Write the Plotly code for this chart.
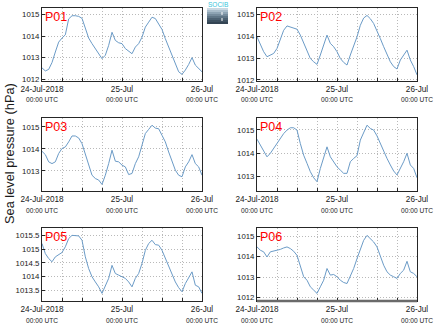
import plotly.graph_objects as go
import pandas as pd

# Hourly sea level pressure (hPa), 24-Jul-2018 00:00 UTC to 26-Jul-2018 00:00 UTC
times = pd.date_range("2018-07-24 00:00", periods=49, freq="h")

stations = ["P01", "P02", "P03", "P04", "P05", "P06"]

p01 = [1012.52, 1012.38, 1012.45, 1012.77, 1013.26, 1013.72, 1013.91, 1014.06, 1014.80,
       1014.95, 1014.95, 1014.92, 1014.83, 1014.34, 1013.91, 1013.65, 1013.42, 1013.14,
       1012.95, 1013.11, 1013.57, 1014.18, 1013.80, 1013.69, 1013.65, 1013.42, 1013.29,
       1013.18, 1013.49, 1013.65, 1013.95, 1014.42, 1014.65, 1014.88, 1014.82, 1014.57,
       1014.31, 1013.88, 1013.49, 1013.03, 1012.65, 1012.34, 1012.22, 1012.42, 1012.68,
       1013.00, 1012.65, 1012.49, 1012.34]

p02 = [1013.97, 1013.59, 1013.29, 1013.06, 1013.14, 1013.21, 1013.44, 1013.89, 1014.27,
       1014.47, 1014.42, 1014.38, 1014.32, 1014.05, 1013.67, 1013.29, 1012.98, 1012.83,
       1012.71, 1013.14, 1013.59, 1014.05, 1013.67, 1013.52, 1013.29, 1012.98, 1012.80,
       1012.68, 1013.14, 1013.52, 1013.97, 1014.50, 1014.83, 1014.95, 1014.80, 1014.58,
       1014.27, 1013.89, 1013.52, 1013.14, 1012.83, 1012.61, 1012.50, 1012.91, 1013.14,
       1013.36, 1012.91, 1012.61, 1012.23]

p03 = [1013.89, 1013.74, 1013.41, 1013.33, 1013.41, 1013.79, 1014.02, 1014.09, 1014.32,
       1014.59, 1014.59, 1014.50, 1014.24, 1013.74, 1013.29, 1012.80, 1012.65, 1012.58,
       1012.38, 1012.80, 1013.33, 1013.94, 1013.44, 1013.41, 1013.26, 1013.18, 1012.83,
       1012.88, 1013.33, 1013.64, 1014.17, 1014.70, 1014.89, 1015.08, 1014.95, 1014.92,
       1014.62, 1014.32, 1013.86, 1013.41, 1013.03, 1012.80, 1012.73, 1013.18, 1013.41,
       1013.74, 1013.33, 1013.18, 1012.80]

p04 = [1014.60, 1014.34, 1014.06, 1013.84, 1013.99, 1014.20, 1014.37, 1014.63, 1014.84,
       1014.99, 1015.09, 1015.09, 1014.99, 1014.41, 1013.91, 1013.56, 1013.20, 1012.94,
       1012.77, 1013.34, 1013.84, 1014.27, 1013.84, 1013.63, 1013.41, 1013.27, 1013.13,
       1013.13, 1013.63, 1013.77, 1013.89, 1014.56, 1014.91, 1015.20, 1015.06, 1014.99,
       1014.74, 1014.41, 1014.06, 1013.77, 1013.49, 1013.23, 1013.06, 1013.34, 1013.63,
       1013.99, 1013.49, 1013.34, 1012.94]

p05 = [1015.21, 1014.84, 1014.66, 1014.54, 1014.72, 1014.80, 1014.88, 1015.09, 1015.39,
       1015.51, 1015.51, 1015.49, 1015.33, 1014.72, 1014.29, 1013.99, 1013.80, 1013.62,
       1013.38, 1013.68, 1013.93, 1014.41, 1014.11, 1014.05, 1013.99, 1013.93, 1013.80,
       1013.62, 1013.93, 1014.11, 1014.48, 1014.96, 1015.21, 1015.33, 1015.17, 1015.15,
       1014.96, 1014.66, 1014.35, 1014.05, 1013.80, 1013.59, 1013.44, 1013.74, 1013.93,
       1014.17, 1013.68, 1013.62, 1013.38]

p06 = [1014.47, 1014.31, 1014.23, 1013.98, 1014.23, 1014.26, 1014.31, 1014.35, 1014.42,
       1014.47, 1014.39, 1014.26, 1014.06, 1013.50, 1013.02, 1012.85, 1012.53, 1012.37,
       1012.21, 1012.53, 1012.85, 1013.42, 1013.10, 1013.13, 1013.02, 1012.85, 1012.74,
       1012.69, 1013.02, 1013.42, 1013.90, 1014.39, 1014.79, 1015.03, 1014.87, 1014.71,
       1014.47, 1013.98, 1013.58, 1013.26, 1013.10, 1013.02, 1012.94, 1013.18, 1013.34,
       1013.77, 1013.26, 1013.18, 1013.02]

series = [p01, p02, p03, p04, p05, p06]

# y-axis limits and ticks per station
y_ranges = [[1011.91, 1015.31], [1011.95, 1015.29], [1012.08, 1015.41],
            [1012.37, 1015.51], [1013.10, 1015.78], [1011.84, 1015.39]]
y_ticks = [[1012, 1013, 1014, 1015], [1012, 1013, 1014, 1015], [1013, 1014, 1015],
           [1013, 1014, 1015], [1013.5, 1014, 1014.5, 1015, 1015.5], [1012, 1013, 1014, 1015]]
y_ticktext = [["1012", "1013", "1014", "1015"], ["1012", "1013", "1014", "1015"],
              ["1013", "1014", "1015"], ["1013", "1014", "1015"],
              ["1013.5", "1014", "1014.5", "1015", "1015.5"],
              ["1012", "1013", "1014", "1015"]]

x_ticks = pd.date_range("2018-07-24 00:00", periods=9, freq="6h")
x_labels = ["24-Jul-2018", "", "", "", "25-Jul", "", "", "", "26-Jul"]
x_ticktext = [f"{lab}<br><span style='font-size:6.6px'>00:00 UTC</span>" if lab else ""
              for lab in x_labels]

W, H = 435, 327
col_px = [(42, 202), (257, 417)]
row_px = [(8, 81), (118, 191), (228, 301)]

LINE = "#6b9bc7"
FRAME = "#262626"
GRID = "#b9b9b9"
FONT = "Liberation Sans, Arial, sans-serif"

fig = go.Figure()
layout = dict(width=W, height=H, margin=dict(l=0, r=0, t=0, b=0, autoexpand=False),
              paper_bgcolor="white", plot_bgcolor="white", showlegend=False,
              annotations=[], shapes=[])

for i, (name, vals) in enumerate(zip(stations, series)):
    k = i + 1
    sfx = "" if k == 1 else str(k)
    r, c = divmod(i, 2)
    x0, x1 = col_px[c]
    y0, y1 = row_px[r]
    fig.add_trace(go.Scatter(x=times, y=vals, mode="lines",
                             line=dict(color=LINE, width=1.0),
                             xaxis="x" + sfx, yaxis="y" + sfx, hoverinfo="skip"))
    layout["xaxis" + sfx] = dict(
        domain=[x0 / W, x1 / W], anchor="y" + sfx, type="date",
        range=[times[0], times[-1]], tickvals=list(x_ticks), ticktext=x_ticktext,
        ticks="inside", ticklen=3, tickcolor=FRAME, tickwidth=1,
        showline=True, linecolor=FRAME, linewidth=1, mirror=True,
        showgrid=True, gridcolor=GRID, griddash="1px,2px", gridwidth=1,
        tickfont=dict(family=FONT, size=8.2, color="#1a1a1a"), tickangle=0,
        automargin=False, zeroline=False, fixedrange=True)
    layout["yaxis" + sfx] = dict(
        domain=[1 - y1 / H, 1 - y0 / H], anchor="x" + sfx,
        range=y_ranges[i], tickvals=y_ticks[i], ticktext=y_ticktext[i],
        ticks="inside", ticklen=3, tickcolor=FRAME, tickwidth=1,
        showline=True, linecolor=FRAME, linewidth=1, mirror=True,
        showgrid=True, gridcolor=GRID, griddash="1px,2px", gridwidth=1,
        tickfont=dict(family=FONT, size=7.8, color="#1a1a1a"),
        automargin=False, zeroline=False, fixedrange=True)
    layout["annotations"].append(dict(
        text=name, xref=f"x{sfx} domain", yref=f"y{sfx} domain",
        x=0.004, y=1.0, xanchor="left", yanchor="top", showarrow=False,
        font=dict(family=FONT, size=12.5, color="#ff0000")))

# heavier bottom edge on the last panel
layout["shapes"].append(dict(type="line", xref="x6 domain", yref="y6 domain",
                             x0=0, x1=1, y0=0, y1=0,
                             line=dict(color="#6a6a6a", width=2.5)))

# shared y-axis title
layout["annotations"].append(dict(
    text="Sea level pressure (hPa)", xref="paper", yref="paper",
    x=9 / W, y=1 - 154 / H, textangle=-90, showarrow=False,
    xanchor="center", yanchor="middle",
    font=dict(family=FONT, size=12.8, color="#1a1a1a")))

# small logo block between the top panels
logo_colors = ["#c9d8e2", "#aabdcb", "#8ea4b4", "#768c9d", "#607687", "#4d6273", "#3e5161", "#334453"]
lx0, lx1, ly0, ly1 = 207, 228, 8, 24
step = (ly1 - ly0) / len(logo_colors)
for j, col in enumerate(logo_colors):
    layout["shapes"].append(dict(
        type="rect", xref="paper", yref="paper",
        x0=lx0 / W, x1=lx1 / W,
        y0=1 - (ly0 + (j + 1) * step) / H, y1=1 - (ly0 + j * step) / H,
        line=dict(width=0), fillcolor=col))
layout["shapes"].append(dict(type="line", xref="paper", yref="paper",
                             x0=222 / W, x1=222 / W, y0=1 - 12 / H, y1=1 - 23 / H,
                             line=dict(color="white", width=1, dash="dot")))
layout["annotations"].append(dict(
    text="SOCIB", xref="paper", yref="paper", x=217.5 / W, y=1 - 4.5 / H,
    xanchor="center", yanchor="middle", showarrow=False,
    font=dict(family=FONT, size=6.5, color="#38c4da")))

fig.update_layout(**layout)
fig.write_html("out.html")
